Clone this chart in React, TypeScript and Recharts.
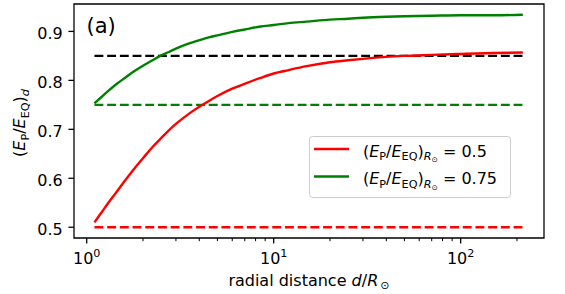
import React from 'react';
import { LineChart, Line, XAxis, YAxis, ReferenceLine, ReferenceArea, Legend } from 'recharts';

// radial distance d / R_sun (log axis)
const distance = [1.1, 1.2, 1.3, 1.45, 1.6, 1.8, 2, 2.25, 2.5, 2.75, 3, 3.5, 4, 4.5, 5, 6, 7, 8.5, 10, 12, 15, 20, 25, 30, 40, 50, 70, 100, 150, 215];
// (E_P/E_EQ)_d for the two starting ratios at R_sun
const ratioHalf = [0.51, 0.53, 0.549, 0.573, 0.595, 0.62, 0.641, 0.664, 0.682, 0.698, 0.711, 0.731, 0.746, 0.758, 0.768, 0.783, 0.793, 0.805, 0.814, 0.821, 0.829, 0.837, 0.841, 0.844, 0.848, 0.85, 0.852, 0.854, 0.856, 0.857];
const ratioThreeQuarter = [0.753, 0.766, 0.778, 0.793, 0.805, 0.819, 0.83, 0.841, 0.851, 0.858, 0.865, 0.875, 0.882, 0.888, 0.892, 0.899, 0.904, 0.91, 0.913, 0.917, 0.92, 0.924, 0.926, 0.928, 0.93, 0.931, 0.932, 0.933, 0.933, 0.934];

const levels = [0.85, 0.75, 0.5];
const levelColors = ['#000000', '#008000', '#ff0000'];

const majorTicks = [1, 10, 100];
const xTicks = [1, 2, 3, 4, 5, 6, 7, 8, 9, 10, 20, 30, 40, 50, 60, 70, 80, 90, 100, 200];
const yTicks = [0.5, 0.6, 0.7, 0.8, 0.9];

const xDomain = [0.855, 279];
const yDomain = [0.478, 0.956];

const series = [
  { key: 'half', label: '0.5', color: '#ff0000' },
  { key: 'threeQuarter', label: '0.75', color: '#008000' },
];

const rows = distance.map((d, i) => ({ d, half: ratioHalf[i], threeQuarter: ratioThreeQuarter[i] }));

const FONT = 'DejaVu Sans, sans-serif';
const FS = 16;
const SUB = 11.2;

const XTick = (props: any) => {
  const { x, y, payload } = props;
  const major = majorTicks.includes(payload.value);
  return (
    <g>
      <line x1={x} x2={x} y1={y} y2={y + (major ? 5.6 : 3.2)} stroke="#000" strokeWidth={major ? 1.28 : 1} />
      {major && (
        <text x={x} y={y + 26} textAnchor="middle" fontFamily={FONT} fontSize={FS} fill="#000">
          10
          <tspan dy={-7} fontSize={SUB}>{Math.round(Math.log10(payload.value))}</tspan>
        </text>
      )}
    </g>
  );
};

const YTick = (props: any) => {
  const { x, y, payload } = props;
  return (
    <g>
      <line x1={x - 5.6} x2={x} y1={y} y2={y} stroke="#000" strokeWidth={1.28} />
      <text x={x - 11.2} y={y + 7.5} textAnchor="end" fontFamily={FONT} fontSize={FS} fill="#000">
        {payload.value.toFixed(1)}
      </text>
    </g>
  );
};

const YLabel = (props: any) => {
  const vb = props.viewBox;
  const cy = vb.y + vb.height / 2 + 2;
  return (
    <text transform={`translate(25, ${cy}) rotate(-90)`} x={0} y={0} textAnchor="middle" fontFamily={FONT} fontSize={FS} fill="#000">
      (<tspan fontStyle="italic">E</tspan>
      <tspan dy={3.5} fontSize={SUB}>P</tspan>
      <tspan dy={-3.5}>/</tspan>
      <tspan fontStyle="italic">E</tspan>
      <tspan dy={3.5} fontSize={SUB}>EQ</tspan>
      <tspan dy={-3.5}>)</tspan>
      <tspan dy={3.5} fontSize={SUB} fontStyle="italic">d</tspan>
    </text>
  );
};

const XLabel = (props: any) => {
  const vb = props.viewBox;
  return (
    <text x={vb.x + vb.width / 2} y={vb.y + 47.5} textAnchor="middle" fontFamily={FONT} fontSize={FS} fill="#000">
      radial distance <tspan fontStyle="italic">d</tspan>/<tspan fontStyle="italic">R</tspan>
      <tspan dx={2} dy={3.5} fontSize={SUB}>⊙</tspan>
    </text>
  );
};

const PanelTag = (props: any) => {
  const vb = props.viewBox;
  return (
    <text x={vb.x + 12.5} y={vb.y + 29} fontFamily={FONT} fontSize={21} fill="#000">
      (a)
    </text>
  );
};

const renderLegend = () => (
  <svg width={203} height={63} style={{ display: 'block' }}>
    <rect x={0.5} y={0.5} width={201} height={61} rx={3} fill="#fff" fillOpacity={0.8} stroke="#cccccc" strokeWidth={1} />
    {series.map((s, i) => {
      const cy = 13 + i * 27.5;
      return (
        <g key={s.key}>
          <line x1={5} x2={40} y1={cy} y2={cy} stroke={s.color} strokeWidth={2.4} />
          <text x={54} y={cy + 7.5} fontFamily={FONT} fontSize={FS} fill="#000">
            (<tspan fontStyle="italic">E</tspan>
            <tspan dy={3.5} fontSize={SUB}>P</tspan>
            <tspan dy={-3.5}>/</tspan>
            <tspan fontStyle="italic">E</tspan>
            <tspan dy={3.5} fontSize={SUB}>EQ</tspan>
            <tspan dy={-3.5}>)</tspan>
            <tspan dy={3.5} fontSize={SUB} fontStyle="italic">R</tspan>
            <tspan dy={2} fontSize={7.5}>⊙</tspan>
            <tspan dy={-5.5}> = {s.label}</tspan>
          </text>
        </g>
      );
    })}
  </svg>
);

export default function App() {
  const last = distance.length - 1;
  return (
    <div style={{ position: 'absolute', left: 0, top: 0, width: 565, height: 294, background: '#fff' }}>
      <LineChart width={565} height={294} data={rows} margin={{ top: 4, right: 21, bottom: 0, left: 0 }}>
        <XAxis
          dataKey="d"
          type="number"
          scale="log"
          domain={xDomain}
          ticks={xTicks}
          allowDataOverflow
          interval={0}
          height={56}
          tickSize={0}
          tickMargin={0}
          tickLine={false}
          axisLine={false}
          tick={<XTick />}
          label={<XLabel />}
        />
        <YAxis
          type="number"
          domain={yDomain}
          ticks={yTicks}
          allowDataOverflow
          interval={0}
          width={74}
          tickSize={0}
          tickMargin={0}
          tickLine={false}
          axisLine={false}
          tick={<YTick />}
          label={<YLabel />}
        />
        {levels.map((lv, i) => (
          <ReferenceLine
            key={lv}
            segment={[{ x: distance[0], y: lv }, { x: distance[last], y: lv }]}
            stroke={levelColors[i]}
            strokeWidth={2.4}
            strokeDasharray="8.9 3.8"
          />
        ))}
        {series.map((s) => (
          <Line
            key={s.key}
            dataKey={s.key}
            type="monotone"
            stroke={s.color}
            strokeWidth={2.4}
            dot={false}
            activeDot={false}
            isAnimationActive={false}
          />
        ))}
        <ReferenceArea
          x1={xDomain[0]}
          x2={xDomain[1]}
          y1={yDomain[0]}
          y2={yDomain[1]}
          fill="none"
          stroke="#000"
          strokeWidth={1.28}
          ifOverflow="visible"
          label={<PanelTag />}
        />
        <Legend
          layout="vertical"
          align="center"
          verticalAlign="middle"
          content={renderLegend}
          wrapperStyle={{ position: 'absolute', left: 309, top: 136, width: 203, height: 63 }}
        />
      </LineChart>
    </div>
  );
}
